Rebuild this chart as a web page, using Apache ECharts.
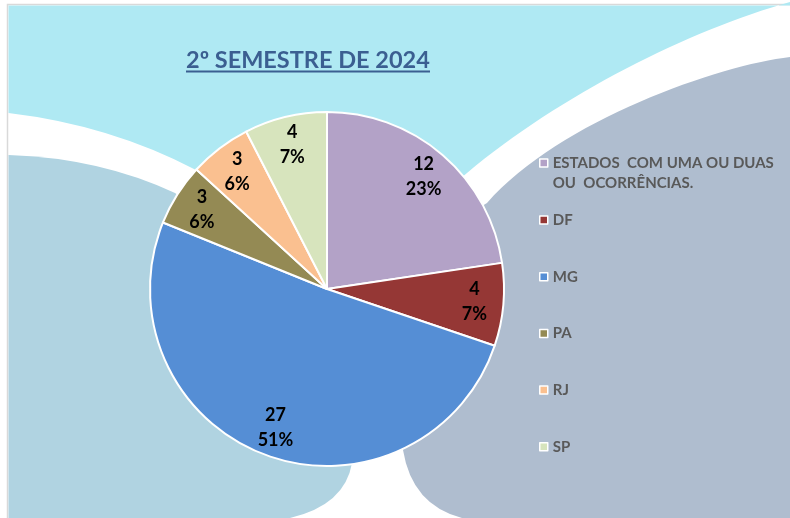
<!DOCTYPE html>
<html>
<head>
<meta charset="utf-8">
<script src="https://cdn.jsdelivr.net/npm/echarts@6/dist/echarts.min.js"></script>
<style>
  html, body { margin: 0; padding: 0; background: #fff; }
  #chart { width: 790px; height: 518px; }
</style>
</head>
<body>
<div id="chart"></div>
<script>
// dados do gráfico
const titulo = '2º SEMESTRE DE 2024';
const categorias = ['ESTADOS  COM UMA OU DUAS OU  OCORRÊNCIAS.', 'DF', 'MG', 'PA', 'RJ', 'SP'];
const ocorrencias = [12, 4, 27, 3, 3, 4];
const cores = ['#B3A2C7', '#953735', '#558ED5', '#948A54', '#FAC090', '#D7E4BD'];

(function () {
  // formas curvas do fundo
  echarts.graphic.registerShape('fundoCiano', echarts.graphic.extendPath(
    'M8.5,5.5 L790,5.5 L790,2 C690,30 560,95 467,173 L327,289 L196,170 Q110,125 8.5,113 Z', {}));
  echarts.graphic.registerShape('fundoEsquerda', echarts.graphic.extendPath(
    'M8.5,155 Q100,158 175,193 L327,300 L352,463 Q345,505 290,518 L8.5,518 Z', {}));
  echarts.graphic.registerShape('fundoDireita', echarts.graphic.extendPath(
    'M790,57 C720,65 560,120 487,203 L327,300 L403,450 Q412,505 462,518 L790,518 Z', {}));

  let myChart = echarts.init(document.getElementById('chart'));
  let fonte = 'Lato, "Open Sans", sans-serif';

  let dados = categorias.map(function (nome, i) {
    return { name: nome, value: ocorrencias[i] };
  });

  let centro = [327, 289];

  let option = {
    backgroundColor: '#fff',
    animation: false,
    color: cores,
    title: {
      text: titulo,
      left: 186,
      top: 48,
      padding: 0,
      textStyle: { fontFamily: fonte, fontSize: 23.5, fontWeight: 'bold', color: '#3B5F91' }
    },
    graphic: [
      {
        type: 'rect', z: -10, silent: true,
        shape: { x: 7.5, y: 4.5, width: 800, height: 530 },
        style: { fill: '#fff', stroke: '#d9d9d9', lineWidth: 1.5 }
      },
      { type: 'fundoCiano', z: -9, silent: true, style: { fill: '#AFE9F3' } },
      { type: 'fundoEsquerda', z: -9, silent: true, style: { fill: '#B0D3E1' } },
      { type: 'fundoDireita', z: -9, silent: true, style: { fill: '#AFBDCF' } },
      {
        type: 'line', z: 5, silent: true,
        shape: { x1: 186, y1: 71.5, x2: 430, y2: 71.5 },
        style: { stroke: '#3B5F91', lineWidth: 2 }
      }
    ],
    legend: [
      {
        orient: 'vertical',
        left: 539,
        top: 133,
        padding: 0,
        data: [categorias[0]],
        icon: 'rect',
        itemWidth: 8,
        itemHeight: 8,
        itemStyle: { borderColor: '#fff', borderWidth: 1.5 },
        formatter: function (nome) {
          return '\n' + nome.replace('DUAS ', 'DUAS\n');
        },
        textStyle: { fontFamily: fonte, fontSize: 15, fontWeight: 'bold', color: '#595959', lineHeight: 20 }
      },
      {
        orient: 'vertical',
        left: 539,
        top: 211.5,
        padding: 0,
        itemGap: 39.7,
        data: categorias.slice(1),
        icon: 'rect',
        itemWidth: 8,
        itemHeight: 8,
        itemStyle: { borderColor: '#fff', borderWidth: 1.5 },
        textStyle: { fontFamily: fonte, fontSize: 15, fontWeight: 'bold', color: '#595959', lineHeight: 17 }
      }
    ],
    series: [
      {
        name: 'Ocorrências',
        type: 'pie',
        center: centro,
        radius: [0, 177],
        startAngle: 90,
        clockwise: true,
        data: dados,
        itemStyle: { borderColor: '#fff', borderWidth: 2 },
        label: { show: false },
        labelLine: { show: false },
        emphasis: { scale: false }
      },
      {
        // anel transparente só para posicionar os rótulos
        name: 'Rótulos',
        type: 'pie',
        center: centro,
        radius: [113, 177],
        startAngle: 90,
        clockwise: true,
        silent: true,
        percentPrecision: 0,
        data: dados,
        itemStyle: { color: 'rgba(0,0,0,0)', borderWidth: 0 },
        label: {
          show: true,
          position: 'inside',
          formatter: '{c}\n{d}%',
          fontFamily: fonte,
          fontSize: 18,
          fontWeight: 'bold',
          color: '#000',
          lineHeight: 25
        },
        labelLayout: { hideOverlap: false },
        labelLine: { show: false }
      }
    ]
  };

  myChart.setOption(option);
  window.addEventListener('resize', function () {
    myChart.resize();
  });
})();
</script>
</body>
</html>
